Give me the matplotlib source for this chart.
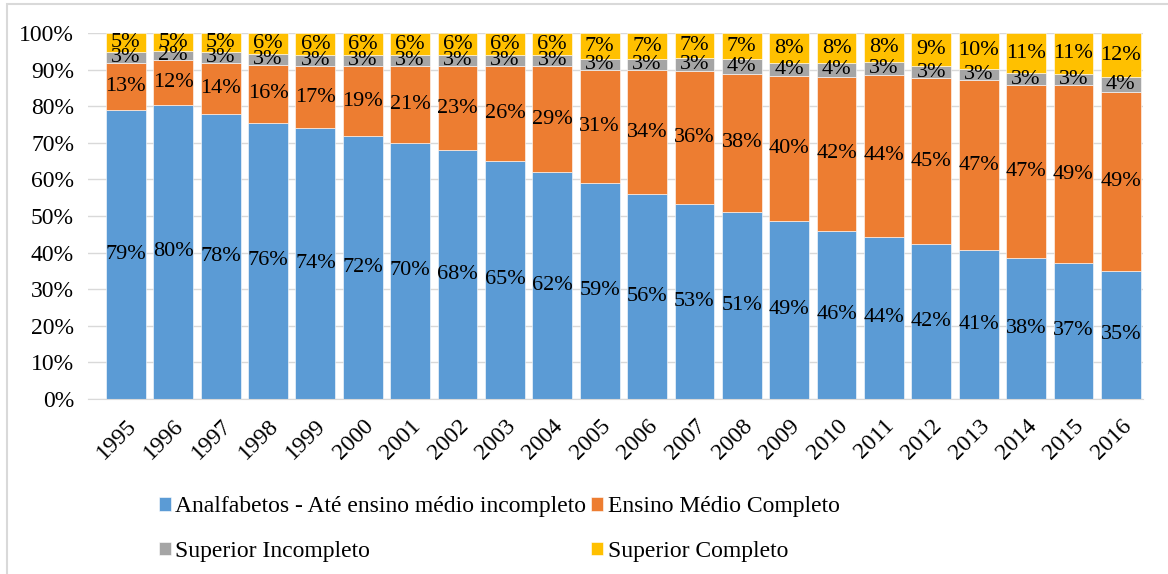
import matplotlib
matplotlib.use("Agg")
import matplotlib.pyplot as plt
import numpy as np
from matplotlib.patches import Rectangle

plt.rcParams['font.family'] = ['Liberation Serif', 'DejaVu Serif']

years = [str(y) for y in range(1995, 2017)]
analfabetos = [79.0, 80.3, 78.0, 75.6, 74.0, 72.0, 70.0, 68.0, 65.0, 62.0, 59.0,
               56.0, 53.4, 51.0, 48.6, 46.0, 44.3, 42.3, 40.6, 38.4, 37.0, 35.0]
medio = [13.0, 12.4, 14.0, 15.8, 17.0, 19.0, 21.0, 23.0, 26.0, 29.0, 31.0,
         34.0, 36.4, 38.0, 39.8, 42.0, 44.4, 45.4, 46.6, 47.4, 49.0, 49.0]
sup_inc = [3.0, 2.4, 3.0, 3.0, 3.0, 3.0, 3.0, 3.0, 3.0, 3.0, 3.0,
           3.0, 3.4, 4.0, 3.6, 4.0, 3.4, 3.4, 3.2, 3.4, 3.0, 4.0]
sup_comp = [5.0, 4.9, 5.0, 5.6, 6.0, 6.0, 6.0, 6.0, 6.0, 6.0, 7.0,
            7.0, 6.8, 7.0, 8.0, 8.0, 7.9, 8.9, 9.6, 10.8, 11.0, 12.0]

series = [
    ("Analfabetos - Até ensino médio incompleto", analfabetos, "#5b9bd5"),
    ("Ensino Médio Completo", medio, "#ed7d31"),
    ("Superior Incompleto", sup_inc, "#a5a5a5"),
    ("Superior Completo", sup_comp, "#ffc000"),
]

fig = plt.figure(figsize=(11.68, 5.74), dpi=100)
ax = fig.add_axes([0.0753, 0.3057, 0.903, 0.636])

x = np.arange(len(years))
bottom = np.zeros(len(years))
handles = []
for name, vals, col in series:
    vals = np.array(vals)
    b = ax.bar(x, vals / 100, 0.84, bottom=bottom / 100, color=col, label=name,
               edgecolor='white', linewidth=0.4, zorder=2)
    handles.append(b)
    for xi, v, bt in zip(x, vals, bottom):
        ax.text(xi, (bt + v / 2) / 100, f"{v:.0f}%", ha='center', va='center',
                fontsize=16, color='black', zorder=3)
    bottom = bottom + vals

ax.set_xlim(-0.80, 21.46)
ax.set_ylim(0, 1)
ticks = np.arange(0, 1.01, 0.1)
ax.set_yticks(ticks)
ax.set_yticklabels([f"{int(round(t * 100))}%" for t in ticks], fontsize=17)
ax.set_xticks(x)
ax.set_xticklabels(years, rotation=45, ha='right', rotation_mode='anchor', fontsize=17)
ax.tick_params(length=0, pad=10)
ax.tick_params(axis='x', pad=12)
ax.grid(axis='y', color='#d9d9d9', linewidth=1, zorder=0)
for s in ['top', 'right', 'left']:
    ax.spines[s].set_visible(False)
ax.spines['bottom'].set_color('#d9d9d9')

# row-wise order: matplotlib fills legend columns first
order = [handles[0], handles[2], handles[1], handles[3]]
fig.legend(handles=order, loc='upper left', bbox_to_anchor=(0.128, 0.152),
           ncol=2, frameon=False, fontsize=17, handlelength=0.5, handleheight=0.5,
           handletextpad=0.2, columnspacing=0.2, labelspacing=1.0, borderaxespad=0)

fig.patches.append(Rectangle((7 / 1168, -0.1), 1.2, 1 - 4 / 574 + 0.1, transform=fig.transFigure,
                             fill=False, edgecolor='#d9d9d9', linewidth=1.5))

fig.savefig("out.png", dpi=100)
